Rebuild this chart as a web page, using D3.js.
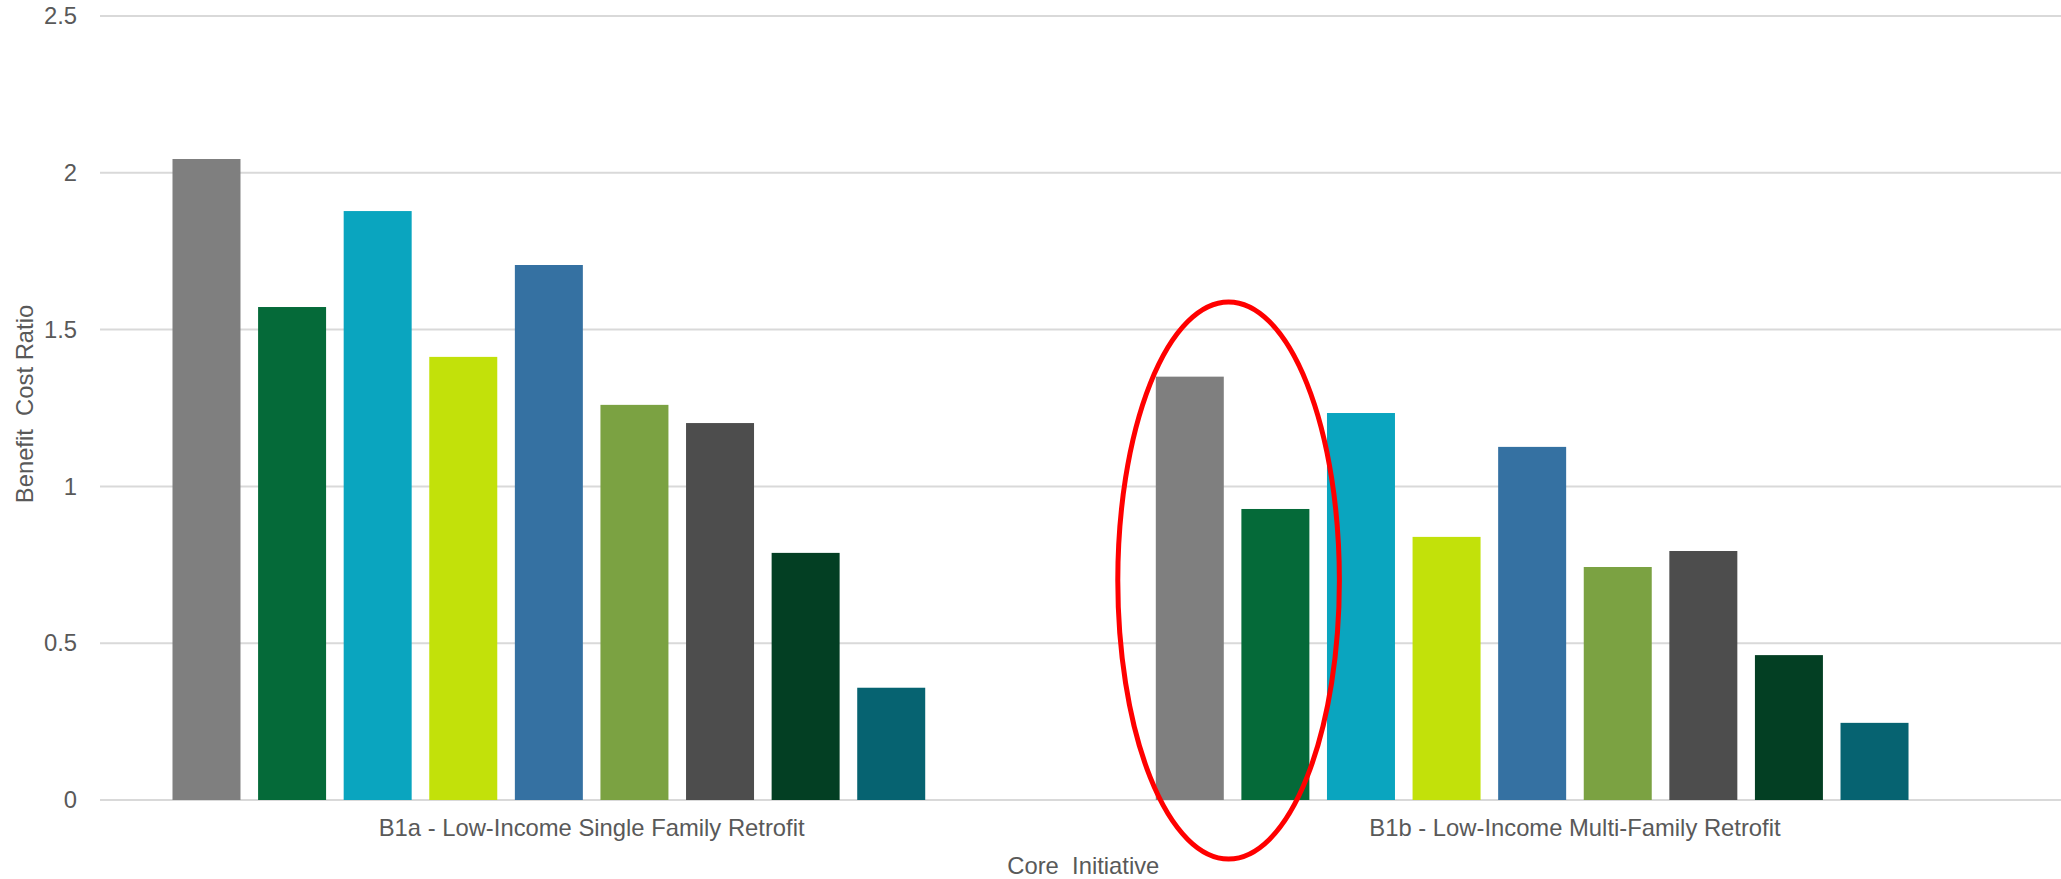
<!DOCTYPE html>
<html>
<head>
<meta charset="utf-8">
<script src="https://cdn.jsdelivr.net/npm/d3@7"></script>
<style>
  html, body { margin: 0; padding: 0; background: #ffffff; }
  svg { display: block; }
  text { font-family: "Liberation Sans", Arial, sans-serif; fill: #595959; }
</style>
</head>
<body>
<script>
// ---- data ----
const categories = ["B1a - Low-Income Single Family Retrofit", "B1b - Low-Income Multi-Family Retrofit"];
const seriesNames = ["S1", "S2", "S3", "S4", "S5", "S6", "S7", "S8", "S9"];
const seriesColors = ["#7f7f7f", "#056a39", "#0aa5bf", "#c2e10a", "#3571a2", "#7ba242", "#4d4d4d", "#033f23", "#066371"];
const valuesB1a = [2.044, 1.572, 1.878, 1.413, 1.706, 1.26, 1.202, 0.788, 0.358];
const valuesB1b = [1.35, 0.928, 1.234, 0.839, 1.126, 0.743, 0.794, 0.462, 0.246];
const yTicks = [0, 0.5, 1, 1.5, 2, 2.5];
const yTickLabels = ["0", "0.5", "1", "1.5", "2", "2.5"];
const yTitle = "Benefit  Cost Ratio";
const xTitle = "Core  Initiative";
const highlight = { category: 1, fromSeries: 0, toSeries: 1 };

const allValues = [valuesB1a, valuesB1b];
const table = categories.map((c, i) => ({
  category: c,
  values: seriesNames.map((s, j) => ({ series: s, index: j, value: allValues[i][j], color: seriesColors[j] }))
}));

// ---- layout ----
const W = 2061, H = 879;
const plot = { left: 100, right: 2066.6, top: 16, bottom: 800 };

const svg = d3.select("body").append("svg").attr("width", W).attr("height", H);

const x0 = d3.scaleBand().domain(categories).range([plot.left, plot.right]).paddingInner(0).paddingOuter(0);
// ten slots per category (the last one is empty in the original chart)
const slots = d3.range(seriesNames.length + 1);
const x1 = d3.scaleBand().domain(slots).range([0, x0.bandwidth()]).paddingInner(0.2056).paddingOuter(0.847);
const y = d3.scaleLinear().domain([0, 2.5]).range([plot.bottom, plot.top]);

// gridlines
svg.append("g").selectAll("line").data(yTicks).join("line")
  .attr("x1", plot.left).attr("x2", plot.right)
  .attr("y1", d => y(d)).attr("y2", d => y(d))
  .attr("stroke", "#d9d9d9").attr("stroke-width", 2);

// y axis labels
const yAxis = d3.axisLeft(y).tickValues(yTicks).tickFormat((d, i) => yTickLabels[i]).tickSize(0).tickPadding(0);
const yg = svg.append("g").attr("transform", `translate(${plot.left - 23},0)`).call(yAxis);
yg.select(".domain").remove();
yg.selectAll("text").attr("font-size", "23.8px").attr("fill", "#595959")
  .attr("font-family", "'Liberation Sans', Arial, sans-serif");

// bars
const groups = svg.append("g").selectAll("g").data(table).join("g")
  .attr("transform", d => `translate(${x0(d.category)},0)`);
groups.selectAll("rect").data(d => d.values).join("rect")
  .attr("x", d => x1(d.index))
  .attr("width", x1.bandwidth())
  .attr("y", d => y(d.value))
  .attr("height", d => y(0) - y(d.value))
  .attr("fill", d => d.color);

// category labels
const xAxis = d3.axisBottom(x0).tickSize(0).tickPadding(0);
const xg = svg.append("g").attr("transform", `translate(0,${plot.bottom})`).call(xAxis);
xg.select(".domain").remove();
xg.selectAll("text").attr("font-size", "23.8px").attr("fill", "#595959")
  .attr("font-family", "'Liberation Sans', Arial, sans-serif")
  .attr("dy", null).attr("y", 36);

// axis titles
svg.append("text")
  .attr("x", (plot.left + plot.right) / 2).attr("y", 874)
  .attr("text-anchor", "middle").attr("font-size", "23.8px")
  .style("white-space", "pre").attr("xml:space", "preserve")
  .text(xTitle);

svg.append("text")
  .attr("transform", `translate(33,404) rotate(-90)`)
  .attr("text-anchor", "middle").attr("font-size", "23.8px")
  .style("white-space", "pre").attr("xml:space", "preserve")
  .text(yTitle);

// red highlight ellipse around first two bars of the second category
const hx0 = x0(categories[highlight.category]) + x1(highlight.fromSeries);
const hx1 = x0(categories[highlight.category]) + x1(highlight.toSeries) + x1.bandwidth();
svg.append("ellipse")
  .attr("cx", (hx0 + hx1) / 2 - 4)
  .attr("cy", y(0.7))
  .attr("rx", (hx1 - hx0) / 2 + 34)
  .attr("ry", 278.5)
  .attr("fill", "none")
  .attr("stroke", "#ff0000")
  .attr("stroke-width", 5);
</script>
</body>
</html>
